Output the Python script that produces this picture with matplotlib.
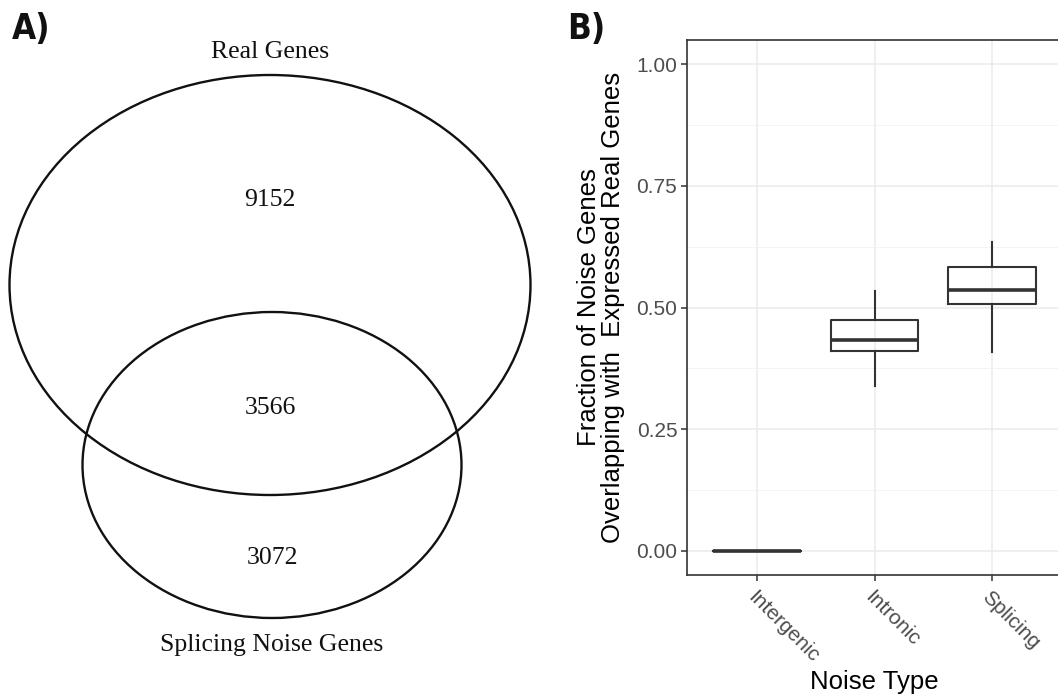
import matplotlib
matplotlib.use("Agg")
import matplotlib.pyplot as plt
from matplotlib.patches import Ellipse

# ---- data ----
venn_sets = ["Real Genes", "Splicing Noise Genes"]
venn_counts = [9152, 3566, 3072]  # real only, overlap, splicing only

noise_types = ["Intergenic", "Intronic", "Splicing"]
whisker_low = [0.0, 0.338, 0.408]
q1 = [0.0, 0.410, 0.508]
median = [0.0, 0.434, 0.535]
q3 = [0.0, 0.475, 0.584]
whisker_high = [0.0, 0.533, 0.635]
yticks = [0.00, 0.25, 0.50, 0.75, 1.00]

fig = plt.figure(figsize=(10.58, 6.98), dpi=100)
W, H = 1058, 698

# ---- Panel A: Venn ----
axA = fig.add_axes([0, 0, 1, 1])
axA.set_xlim(0, W)
axA.set_ylim(H, 0)
axA.axis("off")
axA.add_patch(Ellipse((270, 285), 521, 420, fill=False, lw=1.7, ec="#111111"))
axA.add_patch(Ellipse((272, 465), 379, 306, fill=False, lw=1.7, ec="#111111"))
serif = ["Liberation Serif", "DejaVu Serif"]
fs_v = 18.5
axA.text(270, 52, venn_sets[0], ha="center", va="center", fontsize=fs_v, family=serif, color="#111111")
axA.text(272, 645, venn_sets[1], ha="center", va="center", fontsize=fs_v, family=serif, color="#111111")
axA.text(270, 200, str(venn_counts[0]), ha="center", va="center", fontsize=fs_v, family=serif, color="#111111")
axA.text(270, 408, str(venn_counts[1]), ha="center", va="center", fontsize=fs_v, family=serif, color="#111111")
axA.text(272, 558, str(venn_counts[2]), ha="center", va="center", fontsize=fs_v, family=serif, color="#111111")
axA.text(12, 29, "A)", ha="left", va="center", fontsize=25, fontweight="bold",
         fontstretch="condensed", family="DejaVu Sans", color="#111111")
axA.text(567, 29, "B)", ha="left", va="center", fontsize=25, fontweight="bold",
         fontstretch="condensed", family="DejaVu Sans", color="#111111")

# ---- Panel B: boxplot ----
left, right, top, bottom = 687, 1062, 40, 575
axB = fig.add_axes([left / W, (H - bottom) / H, (right - left) / W, (bottom - top) / H])
stats = []
for i, name in enumerate(noise_types):
    stats.append(dict(label=name, whislo=whisker_low[i], q1=q1[i], med=median[i],
                      q3=q3[i], whishi=whisker_high[i], fliers=[]))
pos = list(range(1, len(noise_types) + 1))
lc = "#333333"
axB.bxp(stats, positions=pos, widths=0.75, showcaps=False, showfliers=False,
        boxprops=dict(color=lc, lw=1.5),
        whiskerprops=dict(color=lc, lw=1.5),
        medianprops=dict(color=lc, lw=2.6, solid_capstyle="butt"),
        zorder=3)
axB.set_xlim(0.4, 3.6)
axB.set_ylim(-0.05, 1.05)
axB.set_yticks(yticks)
axB.set_yticklabels([f"{v:.2f}" for v in yticks])
axB.set_yticks([0.125, 0.375, 0.625, 0.875], minor=True)
axB.set_xticks(pos)
axB.set_xticklabels(noise_types, rotation=-45, ha="left", va="top", rotation_mode="anchor")
sans = ["Liberation Sans", "DejaVu Sans"]
for lab in axB.get_xticklabels() + axB.get_yticklabels():
    lab.set_family(sans)
    lab.set_fontsize(15)
    lab.set_color("#4d4d4d")
axB.tick_params(axis="both", which="major", length=4, width=1.1, color="#333333", pad=3)
axB.tick_params(axis="x", pad=5)
axB.tick_params(axis="y", which="minor", length=0)
axB.grid(True, which="major", color="#ebebeb", lw=1.1, zorder=0)
axB.grid(True, which="minor", axis="y", color="#f2f2f2", lw=0.6, zorder=0)
axB.set_axisbelow(True)
for s in axB.spines.values():
    s.set_color("#333333")
    s.set_linewidth(1.2)
axB.set_xlabel("Noise Type", fontsize=18.5, family=sans, color="black", labelpad=3)
axB.set_ylabel("Fraction of Noise Genes\nOverlapping with  Expressed Real Genes",
               fontsize=18.5, family=sans, color="black", labelpad=8, linespacing=1.0)

fig.savefig("out.png", dpi=100)
